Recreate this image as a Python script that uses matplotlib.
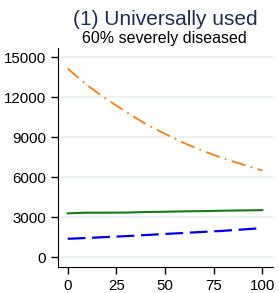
import numpy as np
import matplotlib
matplotlib.use('Agg')
import matplotlib.pyplot as plt

plt.rcParams['font.family'] = ['Liberation Sans', 'DejaVu Sans']

# data
years = [0, 10, 20, 30, 40, 50, 60, 70, 80, 90, 100]
orange = [14150, 12900, 11850, 10900, 10000, 9250, 8550, 7950, 7400, 6950, 6500]
green = [3280, 3330, 3330, 3340, 3380, 3400, 3430, 3450, 3480, 3500, 3520]
blue = [1370, 1430, 1500, 1570, 1650, 1730, 1810, 1890, 1970, 2070, 2170]

xticks = [0, 25, 50, 75, 100]
yticks = [0, 3000, 6000, 9000, 12000, 15000]

fig = plt.figure(figsize=(2.79, 2.93), dpi=100)
ax = fig.add_axes([58/279, 1-267/293, (273-58)/279, (267-48)/293])

for yv in yticks:
    ax.axhline(yv, color='#eaf2f3', lw=1.5, zorder=0)

ax.plot(years, orange, color='#ff7f0e', lw=1.3, dashes=(8, 3, 1, 3))
ax.plot(years, green, color='#1a7a1a', lw=1.5)
ax.plot(years, blue, color='#0000ee', lw=1.6, dashes=(8, 3))

ax.set_xlim(-5, 105.5)
ax.set_ylim(-750, 15700)
ax.set_xticks(xticks)
ax.set_yticks(yticks)
ax.tick_params(labelsize=10.8, length=5, width=1, colors='black')
for s in ['top', 'right']:
    ax.spines[s].set_visible(False)

fig.text(165/279, 1-25/293, '(1) Universally used', ha='center',
         fontsize=15, color='#1e2d5a')
fig.text(164/279, 1-43/293, '60% severely diseased', ha='center',
         fontsize=11.5, color='black')

fig.savefig('out.png', dpi=100)
